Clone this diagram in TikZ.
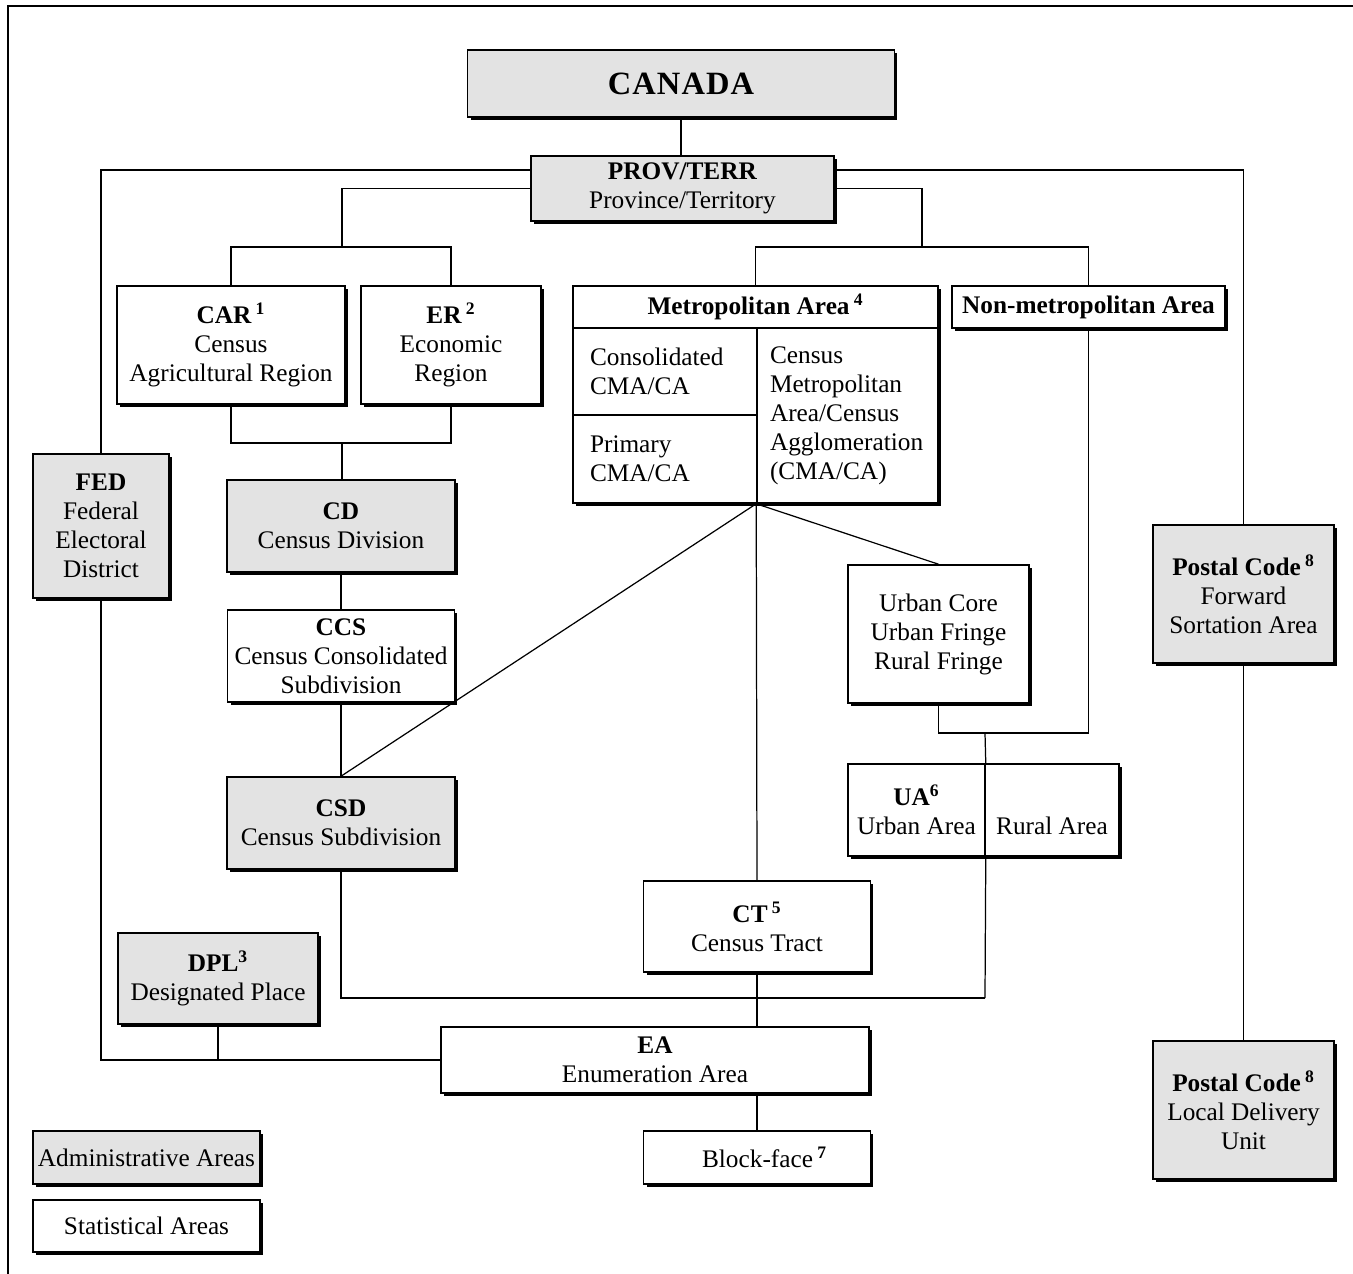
\documentclass[tikz,border=0pt]{standalone}
\usepackage{fontspec}
\setmainfont{Liberation Serif}
\usetikzlibrary{shadows}
\definecolor{admingray}{gray}{0.89}

\begin{document}
\begin{tikzpicture}[x=0.02cm,y=-0.02cm,
  areabox/.style={draw, line width=0.9pt, inner sep=0pt, align=center,
    font=\fontsize{14.4}{16.5}\selectfont,
    drop shadow={shadow xshift=0.06cm,shadow yshift=-0.06cm,opacity=1,fill=black}},
  adminbox/.style={areabox, fill=admingray},
  statbox/.style={areabox, fill=white},
  link/.style={line width=0.7pt}]
\useasboundingbox (0,0) rectangle (1353,1274);
\draw[line width=1.1pt] (1353,6) -- (8,6) -- (8,1274);

% top levels
\node[adminbox, minimum width=8.54cm, minimum height=1.34cm, font=\fontsize{18.5}{20}\selectfont\bfseries] (canada) at (681,83.5) {C\kern0.6pt A\kern0.6pt N\kern0.6pt A\kern0.6pt D\kern0.6pt A};
\node[adminbox, minimum width=6.06cm, minimum height=1.3cm] (prov) at (682.5,188.5) {\textbf{PROV/TERR}\\Province/Territory};

\node[statbox, minimum width=4.56cm, minimum height=2.36cm] (car) at (231,345) {\textbf{CAR\,\textsuperscript{1}}\\Census\\Agricultural Region};
\node[statbox, minimum width=3.6cm, minimum height=2.36cm] (er) at (451,345) {\textbf{ER\,\textsuperscript{2}}\\Economic\\Region};

% metropolitan area block
\node[statbox, minimum width=7.3cm, minimum height=0.84cm] (metro) at (755.5,307) {\textbf{Metropolitan Area\,\textsuperscript{4}}};
\node[statbox, minimum width=3.68cm, minimum height=1.74cm, text width=3.0cm, align=left] (consol) at (665,371.5) {Consolidated\\CMA/CA};
\node[statbox, minimum width=3.68cm, minimum height=1.76cm, text width=3.0cm, align=left] (primary) at (665,459) {Primary\\CMA/CA};
\node[statbox, minimum width=3.62cm, minimum height=3.5cm, text width=3.1cm, align=left] (cma) at (847.5,415.5) {Census\\Metropolitan\\Area/Census\\Agglomeration\\(CMA/CA)};
\node[statbox, minimum width=5.46cm, minimum height=0.84cm] (nonmetro) at (1088.5,307) {\textbf{Non-metropolitan Area}};

% left column
\node[adminbox, minimum width=2.72cm, minimum height=2.88cm] (fed) at (101,526) {\textbf{FED}\\Federal\\Electoral\\District};
\node[adminbox, minimum width=4.56cm, minimum height=1.84cm] (cd) at (341,526) {\textbf{CD}\\Census Division};
\node[statbox, minimum width=4.54cm, minimum height=1.84cm] (ccs) at (341,656) {\textbf{CCS}\\Census Consolidated\\Subdivision};
\node[adminbox, minimum width=4.56cm, minimum height=1.84cm] (csd) at (341,823) {\textbf{CSD}\\Census Subdivision};
\node[adminbox, minimum width=4.0cm, minimum height=1.82cm] (dpl) at (218,978.5) {\textbf{DPL\textsuperscript{3}}\\Designated Place};

% urban / rural
\node[statbox, minimum width=3.62cm, minimum height=2.76cm] (uc) at (938.5,634) {Urban Core\\Urban Fringe\\Rural Fringe};
\node[statbox, minimum width=2.74cm, minimum height=1.84cm] (ua) at (916.5,810) {\textbf{UA\textsuperscript{6}}\\Urban Area};
\node[statbox, minimum width=2.68cm, minimum height=1.84cm] (rural) at (1052,810) {\phantom{\textbf{UA\textsuperscript{6}}}\\Rural Area};

% bottom
\node[statbox, minimum width=4.54cm, minimum height=1.82cm] (ct) at (757,926.5) {\textbf{CT\,\textsuperscript{5}}\\Census Tract};
\node[statbox, minimum width=8.56cm, minimum height=1.32cm] (ea) at (655,1060) {\textbf{EA}\\Enumeration Area};
\node[statbox, minimum width=4.54cm, minimum height=1.06cm] (bf) at (757,1157.5) {\hspace{0.3cm}Block-face\,\textsuperscript{\textbf{7}}};

% postal codes
\node[adminbox, minimum width=3.62cm, minimum height=2.76cm] (fsa) at (1243.5,594) {\textbf{Postal Code\,\textsuperscript{8}}\\Forward\\Sortation Area};
\node[adminbox, minimum width=3.62cm, minimum height=2.76cm] (ldu) at (1243.5,1110) {\textbf{Postal Code\,\textsuperscript{8}}\\Local Delivery\\Unit};

% legend
\node[adminbox, minimum width=4.54cm, minimum height=1.06cm] (legadmin) at (146.5,1157.5) {Administrative Areas};
\node[statbox, minimum width=4.54cm, minimum height=1.04cm] (legstat) at (146.5,1226) {Statistical Areas};

% junctions
\coordinate (carj) at (342,247);
\coordinate (metroj) at (922,247);
\coordinate (cdj) at (342,443);
\coordinate (uaj) at (985,733);
\coordinate (ctj) at (985,998);

% connectors
\draw[link] (canada.south) -- (canada.south |- prov.north);
\draw[link] ([yshift=0.37cm]prov.west) -| (fed.north);
\draw[link] ([yshift=0.37cm]prov.east) -| (fsa.north);
\draw[link] (prov.west) -| (carj);
\draw[link] (car.north) |- (carj) -| (er.north);
\draw[link] (prov.east) -| (metroj);
\draw[link] (metro.north) |- (metroj) -| (nonmetro.north);
\draw[link] (car.south) |- (cdj) -| (er.south);
\draw[link] (cdj) -- (cdj |- cd.north);
\draw[link] (cd.south) -- (ccs.north);
\draw[link] (ccs.south) -- (csd.north);
\draw[link] (cma.south west) -- (csd.north);
\draw[link] (cma.south west) -- (uc.north);
\draw[link] (cma.south west) -- (ct.north);
\draw[link] (uc.south) |- (uaj) -| (nonmetro.south);
\draw[link] (uaj) -- (ua.north east);
\draw[link] (ua.south east) -- (ctj);
\draw[link] (csd.south) |- (ctj);
\draw[link] (ct.south) -- (ct.south |- ea.north);
\draw[link] (bf.north) -- (bf.north |- ea.south);
\draw[link] (fed.south) |- (ea.west);
\draw[link] (dpl.south) -- (dpl.south |- ea.west);
\draw[link] (fsa.south) -- (ldu.north);
\end{tikzpicture}
\end{document}
